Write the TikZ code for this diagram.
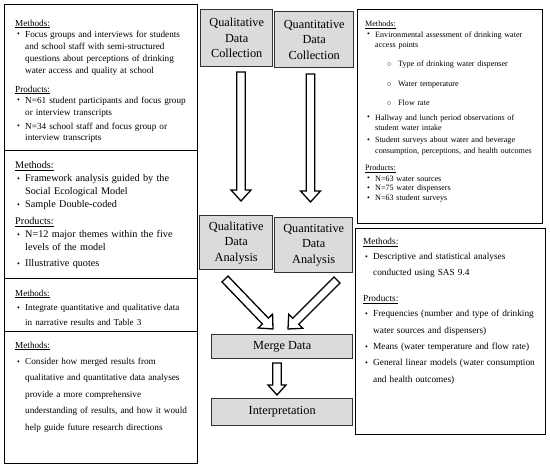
\documentclass[tikz,border=0pt]{standalone}
\usepackage{fontspec}
\setmainfont{Liberation Serif}
\usetikzlibrary{calc}
\newcommand{\mybul}{\hspace*{2pt}\makebox[8pt][l]{\raisebox{0.2pt}{\fontsize{8}{8}\selectfont\textbullet}}}
\newcommand{\myind}{\hspace*{10pt}}
\newcommand{\mysub}{\hspace*{22pt}\makebox[11pt][l]{$\circ$}}
\newcommand{\blkarrow}[5]{%
\draw[blk] let \p1=(#1), \p2=(#2), \n1={atan2(\y2-\y1,\x2-\x1)},
  \n2={veclen(\x2-\x1,\y2-\y1)-#5pt}, \n3={#4pt-#3pt} in
  ($(\p1)+(\n1+90:#3pt)$) -- ++(\n1:\n2) -- ++(\n1+90:\n3) -- (\p2)
  -- ($(\p2)+(\n1+180:#5pt)+(\n1-90:#4pt)$) -- ++(\n1+90:\n3)
  -- ($(\p1)+(\n1-90:#3pt)$) -- cycle;}
\tikzset{
  panel/.style={draw=black, line width=0.9pt, anchor=north west, inner sep=0pt},
  txt/.style={anchor=north west, inner sep=0pt, align=left, text width=200pt},
  cbox/.style={draw=black!80, line width=1.4pt, fill=gray!28, anchor=north west,
    inner sep=0pt, align=center, font=\fontsize{12.3}{15.5}\selectfont},
  blk/.style={draw=black, line width=1.3pt, fill=white, line join=miter}
}
\begin{document}
\begin{tikzpicture}[x=1pt,y=-1pt]
\fill[white] (0,0) rectangle (550,470);
\useasboundingbox (0,0) rectangle (550,470);
% left panels
\node[panel, minimum width=193pt, minimum height=146pt] (p1) at (4,4) {};
\node[panel, minimum width=193pt, minimum height=128pt] (p2) at (4,150) {};
\node[panel, minimum width=193pt, minimum height=53pt] (p3) at (4,278) {};
\node[panel, minimum width=193pt, minimum height=132pt] (p4) at (4,331) {};
% right panels
\node[panel, minimum width=185pt, minimum height=214pt] (p5) at (357,9) {};
\node[panel, minimum width=190pt, minimum height=206pt] (p6) at (355,228) {};
% texts
\node[txt, font=\fontsize{9.2}{12}\selectfont] (t1) at (15,19.5) {%
\underline{Methods:}\\[-1pt]
\mybul Focus groups and interviews for students\\
\myind and school staff with semi-structured\\
\myind questions about perceptions of drinking\\
\myind water access and quality at school\\[7pt]
\underline{Products:}\\[-1pt]
\mybul N=61 student participants and focus group\\
\myind or interview transcripts\\[2pt]
\mybul N=34 school staff and focus group or\\[-1pt]
\myind interview transcripts};
\node[txt, font=\fontsize{10.2}{13}\selectfont] (t2) at (15,161) {%
\underline{Methods:}\\
\mybul Framework analysis guided by the\\
\myind Social Ecological Model\\
\mybul Sample Double-coded\\[4pt]
\underline{Products:}\\
\mybul N=12 major themes within the five\\
\myind levels of the model\\[3pt]
\mybul Illustrative quotes};
\node[txt, font=\fontsize{9.1}{14.5}\selectfont] (t3) at (15,289.5) {%
\underline{Methods:}\\
\mybul Integrate quantitative and qualitative data\\
\myind in narrative results and Table 3};
\node[txt, font=\fontsize{9.2}{16.4}\selectfont] (t4) at (15,341.5) {%
\underline{Methods:}\\
\mybul Consider how merged results from\\
\myind qualitative and quantitative data analyses\\
\myind provide a more comprehensive\\
\myind understanding of results, and how it would\\
\myind help guide future research directions};
\node[txt, font=\fontsize{8.1}{10.8}\selectfont] (t5) at (365,20.5) {%
\underline{Methods:}\\
\mybul Environmental assessment of drinking water\\
\myind access points\\[8pt]
\mysub Type of drinking water dispenser\\[9pt]
\mysub Water temperature\\[8pt]
\mysub Flow rate\\[4pt]
\mybul Hallway and lunch period observations of\\
\myind student water intake\\[1pt]
\mybul Student surveys about water and beverage\\
\myind consumption, perceptions, and health outcomes\\[6pt]
\underline{Products:}\\
\mybul N=63 water sources\\[-1pt]
\mybul N=75 water dispensers\\[-1pt]
\mybul N=63 student surveys};
\node[txt, font=\fontsize{9.3}{16}\selectfont] (t6) at (363,238) {%
\underline{Methods:}\\[-1pt]
\mybul Descriptive and statistical analyses\\
\myind conducted using SAS 9.4\\[10pt]
\underline{Products:}\\[-1pt]
\mybul Frequencies (number and type of drinking\\[1pt]
\myind water sources and dispensers)\\
\mybul Means (water temperature and flow rate)\\
\mybul General linear models (water consumption\\[1pt]
\myind and health outcomes)};
% centre boxes
\node[cbox, minimum width=72pt, minimum height=57pt] (qlc) at (200,9) {Qualitative\\Data\\Collection};
\node[cbox, minimum width=79pt, minimum height=56pt] (qnc) at (274,11) {Quantitative\\Data\\Collection};
\node[cbox, minimum width=73pt, minimum height=54pt] (qla) at (199,215) {Qualitative\\Data\\Analysis};
\node[cbox, minimum width=78pt, minimum height=55pt] (qna) at (274,217) {Quantitative\\Data\\Analysis};
\node[cbox, minimum width=141pt, minimum height=24pt] (mrg) at (211,334) {Merge Data};
\node[cbox, minimum width=141pt, minimum height=27pt] (int) at (211,398) {Interpretation};
% arrows
\coordinate (a1s) at (241,72);  \coordinate (a1e) at (241,201);
\coordinate (a2s) at (310.5,74); \coordinate (a2e) at (310.5,202);
\coordinate (a3s) at (225,279); \coordinate (a3e) at (273,329);
\coordinate (a4s) at (337,280); \coordinate (a4e) at (288,329);
\coordinate (a5s) at (277,363); \coordinate (a5e) at (277,395);
\blkarrow{a1s}{a1e}{4.2}{10}{11}
\blkarrow{a2s}{a2e}{4.2}{10}{11}
\blkarrow{a3s}{a3e}{4.2}{10}{11}
\blkarrow{a4s}{a4e}{4.2}{10}{11}
\blkarrow{a5s}{a5e}{4.2}{9}{10}
\end{tikzpicture}
\end{document}
